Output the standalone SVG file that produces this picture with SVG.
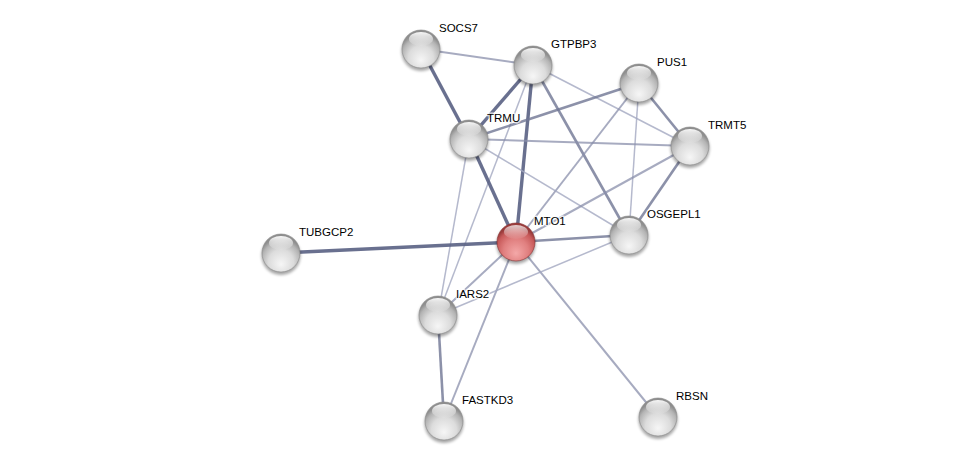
<svg xmlns="http://www.w3.org/2000/svg" width="975" height="466" viewBox="0 0 975 466">
<defs>
<radialGradient id="gGrey" cx="50%" cy="70%" r="60%" fx="50%" fy="80%">
<stop offset="0" stop-color="#f6f6f6"/>
<stop offset="0.55" stop-color="#dcdcdc"/>
<stop offset="0.85" stop-color="#b4b4b4"/>
<stop offset="1" stop-color="#8e8e8e"/>
</radialGradient>
<radialGradient id="gRed" cx="50%" cy="70%" r="60%" fx="50%" fy="80%">
<stop offset="0" stop-color="#f4a8a8"/>
<stop offset="0.55" stop-color="#e07f7f"/>
<stop offset="0.85" stop-color="#c85a5a"/>
<stop offset="1" stop-color="#9a3c3c"/>
</radialGradient>
<linearGradient id="gHi" x1="0" y1="0" x2="0" y2="1">
<stop offset="0" stop-color="#ffffff" stop-opacity="0.95"/>
<stop offset="1" stop-color="#ffffff" stop-opacity="0.05"/>
</linearGradient>
<filter id="blur" x="-50%" y="-50%" width="200%" height="200%">
<feGaussianBlur stdDeviation="1.6"/>
</filter>
<g id="sphere">
<circle cx="0" cy="2.5" r="19.5" fill="#000" opacity="0.35" filter="url(#blur)"/>
<circle cx="0" cy="0" r="19" fill="url(#gGrey)" stroke="#8a8a8a" stroke-width="0.6"/>
<ellipse cx="0" cy="-10" rx="12" ry="7" fill="url(#gHi)"/>
</g>
<g id="sphereRed">
<circle cx="0" cy="2.5" r="19.5" fill="#000" opacity="0.35" filter="url(#blur)"/>
<circle cx="0" cy="0" r="19" fill="url(#gRed)" stroke="#8a3030" stroke-width="0.6"/>
<ellipse cx="0" cy="-10" rx="12" ry="7" fill="url(#gHi)" opacity="0.8"/>
</g>
</defs>
<style>
.e1{stroke:#596083;stroke-width:3.4;stroke-opacity:0.9;fill:none}
.e2{stroke:#6f7594;stroke-width:2.6;stroke-opacity:0.8;fill:none}
.e3{stroke:#8a8fab;stroke-width:2;stroke-opacity:0.75;fill:none}
.e4{stroke:#a3a7c0;stroke-width:1.5;stroke-opacity:0.8;fill:none}
.lbl{font-family:"Liberation Sans",Arial,sans-serif;font-size:11.5px;fill:#000;stroke:#fff;stroke-width:3;stroke-opacity:0.7;paint-order:stroke;stroke-linejoin:round}
</style>
<rect width="975" height="466" fill="#fff"/>
<g id="connectors">
<line class="e3" x1="421" y1="49" x2="533" y2="65"/>
<line class="e1" x1="421" y1="49" x2="469" y2="139"/>
<line class="e1" x1="533" y1="65" x2="469" y2="139"/>
<line class="e1" x1="533" y1="65" x2="516" y2="242"/>
<line class="e4" x1="533" y1="65" x2="690" y2="146"/>
<line class="e2" x1="533" y1="65" x2="629" y2="235"/>
<line class="e4" x1="533" y1="65" x2="438" y2="315"/>
<line class="e2" x1="639" y1="83" x2="469" y2="139"/>
<line class="e2" x1="639" y1="83" x2="690" y2="146"/>
<line class="e3" x1="639" y1="83" x2="516" y2="242"/>
<line class="e4" x1="639" y1="83" x2="629" y2="235"/>
<line class="e3" x1="469" y1="139" x2="690" y2="146"/>
<line class="e1" x1="469" y1="139" x2="516" y2="242"/>
<line class="e4" x1="469" y1="139" x2="629" y2="235"/>
<line class="e4" x1="469" y1="139" x2="438" y2="315"/>
<line class="e2" x1="690" y1="146" x2="629" y2="235"/>
<line class="e3" x1="690" y1="146" x2="516" y2="242"/>
<line class="e2" x1="516" y1="242" x2="629" y2="235"/>
<line class="e1" x1="516" y1="242" x2="281" y2="253"/>
<line class="e3" x1="516" y1="242" x2="438" y2="315"/>
<line class="e3" x1="516" y1="242" x2="444" y2="421"/>
<line class="e3" x1="516" y1="242" x2="658" y2="417"/>
<line class="e4" x1="438" y1="315" x2="629" y2="235"/>
<line class="e2" x1="438" y1="315" x2="444" y2="421"/>
</g>
<g id="SOCS7"><use href="#sphere" x="421" y="49"/><text class="lbl" x="439" y="32">SOCS7</text></g>
<g id="GTPBP3"><use href="#sphere" x="533" y="65"/><text class="lbl" x="551" y="48">GTPBP3</text></g>
<g id="PUS1"><use href="#sphere" x="639" y="83"/><text class="lbl" x="657" y="66">PUS1</text></g>
<g id="TRMU"><use href="#sphere" x="469" y="139"/><text class="lbl" x="487" y="122">TRMU</text></g>
<g id="TRMT5"><use href="#sphere" x="690" y="146"/><text class="lbl" x="708" y="129">TRMT5</text></g>
<g id="OSGEPL1"><use href="#sphere" x="629" y="235"/><text class="lbl" x="647" y="218">OSGEPL1</text></g>
<g id="TUBGCP2"><use href="#sphere" x="281" y="253"/><text class="lbl" x="299" y="236">TUBGCP2</text></g>
<g id="IARS2"><use href="#sphere" x="438" y="315"/><text class="lbl" x="456" y="298">IARS2</text></g>
<g id="FASTKD3"><use href="#sphere" x="444" y="421"/><text class="lbl" x="462" y="404">FASTKD3</text></g>
<g id="RBSN"><use href="#sphere" x="658" y="417"/><text class="lbl" x="676" y="400">RBSN</text></g>
<g id="MTO1"><use href="#sphereRed" x="516" y="242"/><text class="lbl" x="534" y="225">MTO1</text></g>
</svg>
